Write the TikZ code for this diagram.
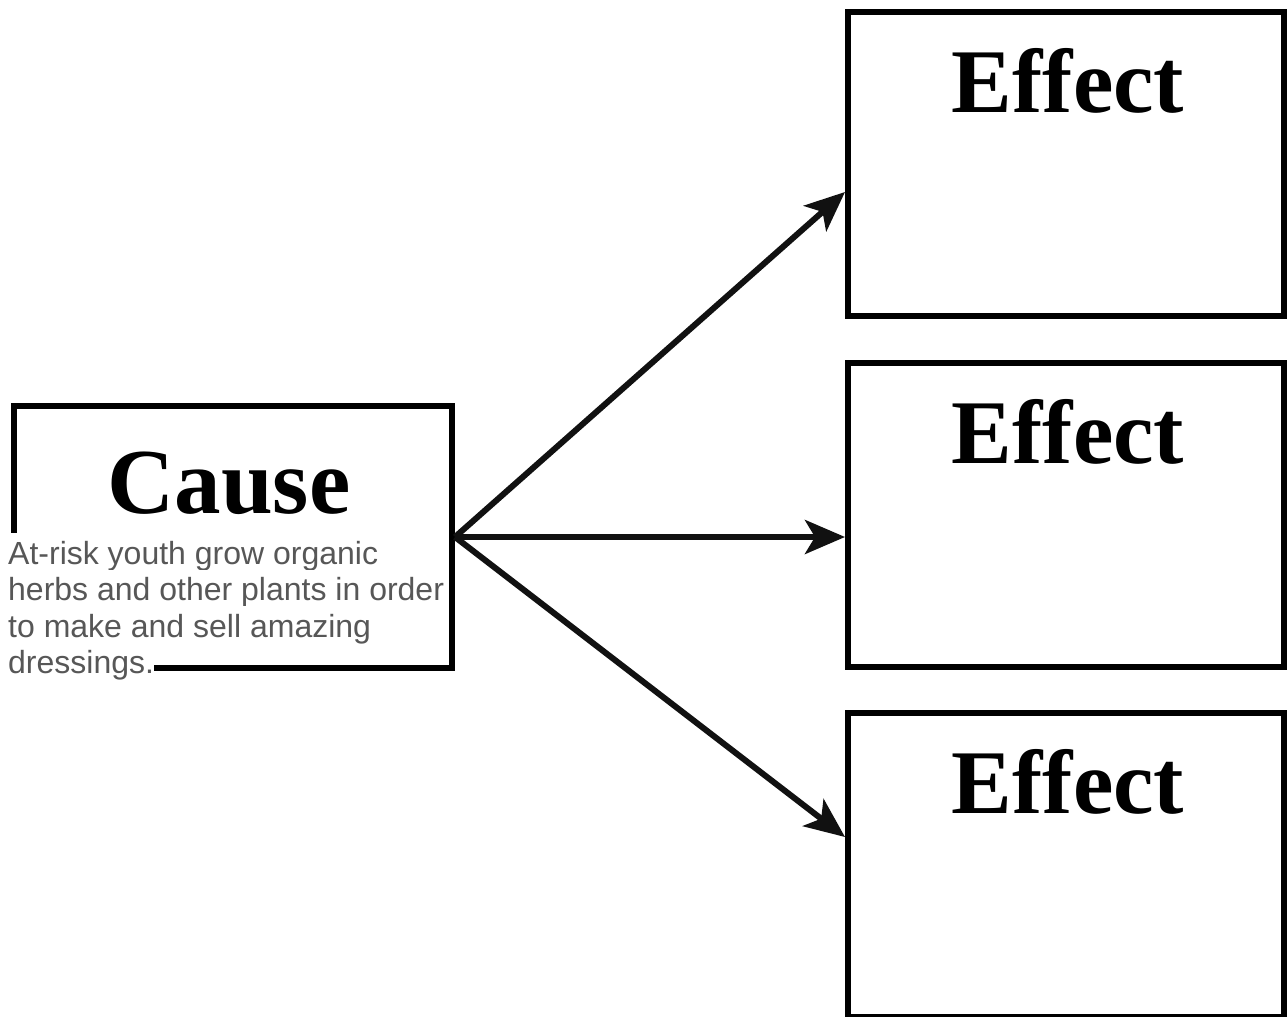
\documentclass[tikz,border=0pt]{standalone}
\usepackage{fontspec}
\setmainfont{Liberation Serif}
\newfontfamily\txtsans{Liberation Sans}
\usetikzlibrary{arrows.meta,calc}
\definecolor{txtgray}{HTML}{575757}
\definecolor{linegray}{HTML}{111111}
\begin{document}
\begin{tikzpicture}[x=1pt,y=1pt,
  box/.style={draw=black,line width=6pt,fill=white,inner sep=0pt},
  effbox/.style={box,minimum width=436pt,minimum height=304pt},
  effttl/.style={anchor=base,inner sep=0pt,font=\fontsize{91}{100}\selectfont\bfseries},
  causettl/.style={anchor=base,inner sep=0pt,font=\fontsize{93}{100}\selectfont\bfseries},
  ln/.style={anchor=base west,fill=white,inner sep=0pt,text height=31pt,text depth=5.5pt,
    text=txtgray,font=\fontsize{32}{36}\txtsans},
  arr/.style={draw=linegray,line width=6pt,-{Stealth[length=40pt,width=34pt,inset=10pt]}}]
\useasboundingbox (0,0) rectangle (1288,-1017);
\fill[white] (0,0) rectangle (1288,-1017);
% cause box
\node[box,minimum width=438.5pt,minimum height=262pt] (c) at (232.75,-537) {};
\node[causettl] (ct) at (229,-513) {Cause};
% effect boxes
\node[effbox] (e1) at (1066,-164) {};
\node[effbox] (e2) at (1066,-515) {};
\node[effbox] (e3) at (1066,-865) {};
\node[effttl] (e1t) at (1068,-112) {Effect};
\node[effttl] (e2t) at (1068,-463) {Effect};
\node[effttl] (e3t) at (1068,-813) {Effect};
% arrow ends
\coordinate (a1) at (845,-192);
\coordinate (a2) at (845,-537);
\coordinate (a3) at (845,-837);
\draw[arr] (c.east) -- (a1);
\draw[arr] (c.east) -- (a2);
\draw[arr] (c.east) -- (a3);
% description text
\node[ln] (l1) at (8,-564) {At-risk youth grow organic};
\node[ln] (l2) at (8,-600.5) {herbs and other plants in order};
\node[ln] (l3) at (8,-637) {to make and sell amazing};
\node[ln] (l4) at (8,-673.5) {dressings.};
\end{tikzpicture}
\end{document}
